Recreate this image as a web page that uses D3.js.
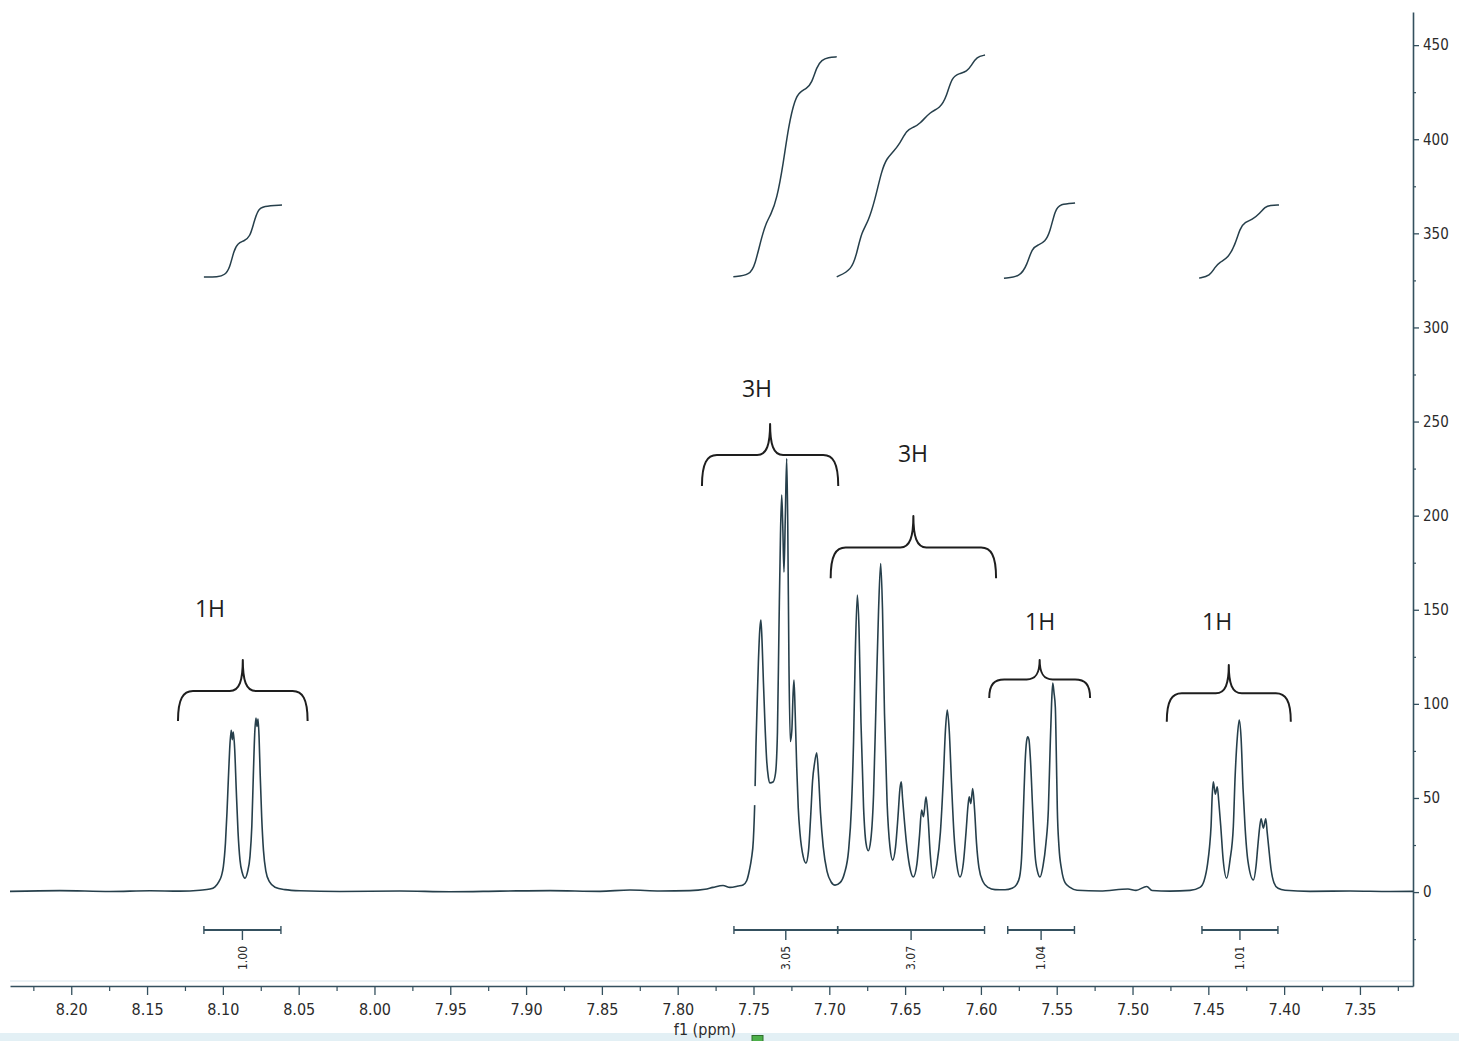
<!DOCTYPE html>
<html>
<head>
<meta charset="utf-8">
<script src="https://cdn.jsdelivr.net/npm/d3@7"></script>
<style>
  html, body { margin: 0; padding: 0; background: #fff; }
  svg { display: block; }
</style>
</head>
<body>
<svg id="chart" width="1459" height="1041"></svg>
<script>
// ---------------------------------------------------------------
// 1H NMR trace, aromatic region: [chemical shift (ppm), intensity]
// ---------------------------------------------------------------
const spectrum = [
  // baseline, low field
  [8.2404,0.4],[8.2075,0.8],[8.1745,0.3],[8.1481,0.7],[8.1283,0.5],[8.1151,1.0],[8.1085,1.6],
  // doublet near 8.09
  [8.1052,2.8],[8.1026,5.5],[8.1008,9],[8.0997,13.4],[8.0983,26],[8.0973,42],[8.0964,59.5],
  [8.0955,76],[8.0945,86],[8.0938,81],[8.0931,85],[8.0922,76],[8.0912,55],[8.0900,32],
  [8.0887,17],[8.0871,10],[8.0854,7.4],[8.0838,10.5],[8.0821,19],[8.0809,35],[8.0799,62],
  [8.0790,84],[8.0782,92.5],[8.0775,88],[8.0768,92],[8.0761,82],[8.0754,63],[8.0744,40],
  [8.0732,22],[8.0716,11],[8.0693,5.5],[8.0656,2.6],[8.0590,1.3],[8.0491,0.7],
  // baseline
  [8.0228,0.3],[7.9832,0.6],[7.9502,0.2],[7.9172,0.5],[7.8842,0.8],[7.8513,0.4],[7.8315,1.1],
  [7.8117,0.6],[7.7919,0.8],[7.7820,1.5],[7.7767,2.5],[7.7701,3.5],[7.7655,2.5],[7.7602,3.2],
  // multiplet 7.76 - 7.70
  [7.7569,3.8],[7.7545,6],[7.7526,12],[7.7513,18],[7.7501,27.6],[7.7491,50],[7.7484,77],
  [7.7476,100],[7.7468,121.5],[7.7458,140],[7.7451,144.5],[7.7443,132],[7.7435,112.6],
  [7.7424,88.7],[7.7413,70],[7.7402,61],[7.7391,58],[7.7371,58.5],[7.7355,63],[7.7342,85],
  [7.7332,140],[7.7322,190],[7.7314,211],[7.7307,195],[7.7299,170],[7.7290,200],[7.7281,230.4],
  [7.7274,195],[7.7266,120],[7.7257,80],[7.7247,86],[7.7239,105],[7.7233,112.6],[7.7225,95],
  [7.7215,66.6],[7.7205,45],[7.7193,31],[7.7172,18.8],[7.7154,15.4],[7.7137,22],[7.7123,40],
  [7.7110,59.5],[7.7098,68],[7.7083,74],[7.7071,62],[7.7058,42],[7.7040,24],[7.7015,11],
  [7.6989,5.5],[7.6962,3.7],
  // multiplet 7.69 - 7.60
  [7.6929,5],[7.6900,10],[7.6873,22],[7.6854,45],[7.6840,80],[7.6829,125],[7.6815,157.8],
  [7.6804,140],[7.6791,90],[7.6774,45],[7.6758,26],[7.6743,22],[7.6726,28],[7.6708,52],
  [7.6692,100],[7.6675,150],[7.6661,174.6],[7.6649,150],[7.6636,95],[7.6619,48],[7.6600,24],
  [7.6582,17],[7.6563,24],[7.6547,40],[7.6534,55],[7.6525,58.6],[7.6517,50],[7.6507,40],
  [7.6491,26],[7.6471,14],[7.6446,8],[7.6422,15],[7.6405,30],[7.6391,43.6],[7.6379,40],
  [7.6362,50.6],[7.6349,40],[7.6334,20],[7.6316,7.4],[7.6290,15],[7.6267,32],[7.6248,60],
  [7.6234,86],[7.6222,96.7],[7.6209,86],[7.6194,58],[7.6177,30],[7.6158,14],[7.6138,8],
  [7.6115,16],[7.6098,32],[7.6085,46],[7.6077,50.6],[7.6067,47],[7.6054,55],[7.6042,44],
  [7.6029,26],[7.6013,13],[7.5986,5.5],[7.5953,2.5],[7.5907,1.3],[7.5841,1.2],
  // doublet near 7.56
  [7.5795,2],[7.5765,4],[7.5745,8],[7.5732,18],[7.5720,43],[7.5709,68],[7.5699,80],
  [7.5691,82.5],[7.5683,81],[7.5673,70],[7.5658,43],[7.5643,20],[7.5627,11],[7.5610,8],
  [7.5590,14],[7.5571,26],[7.5555,44],[7.5544,75],[7.5534,100],[7.5526,111],[7.5518,106],
  [7.5509,98],[7.5503,75],[7.5496,44],[7.5485,24],[7.5468,12],[7.5445,5],[7.5412,2.5],
  [7.5366,1],[7.5214,0.6],[7.5030,1.6],[7.4977,0.9],[7.4906,3],[7.4871,0.8],[7.4753,0.5],
  [7.4621,0.9],
  // triplet near 7.43
  [7.4555,2.5],[7.4528,6],[7.4505,15],[7.4492,24],[7.4482,35],[7.4474,52],[7.4467,58.6],
  [7.4454,52],[7.4441,56],[7.4431,48],[7.4418,35],[7.4403,18],[7.4379,7.4],[7.4357,17],
  [7.4335,35],[7.4324,60],[7.4309,82],[7.4296,91.4],[7.4284,82],[7.4271,55],[7.4258,35],
  [7.4238,16],[7.4203,6.4],[7.4185,14],[7.4174,24],[7.4162,34],[7.4152,39],[7.4137,34],
  [7.4121,39],[7.4112,32],[7.4102,24],[7.4086,12],[7.4067,5],[7.4040,2],[7.3994,1],
  // baseline, high field
  [7.3829,0.4],[7.3565,0.6],[7.3301,0.3],[7.3150,0.4]
];

// Integral curves: [ppm, running integral on the same intensity scale]
const integral1 = [[8.1125,326.8],[8.1033,326.8],[8.0987,327.8],[8.0954,331.6],[8.0927,341.1],
  [8.0901,344.8],[8.0861,345.9],[8.0821,348.0],[8.0795,356.0],[8.0769,362.4],[8.0736,364.5],[8.0610,365.0]];
const integral2 = [[7.7633,326.9],[7.7523,327.8],[7.7490,333.2],[7.7446,348.2],[7.7413,356.2],
  [7.7387,359.7],[7.7347,367.7],[7.7303,387.2],[7.7270,406.7],[7.7226,421.7],[7.7193,425.2],
  [7.7149,427.0],[7.7116,429.7],[7.7083,438.5],[7.7050,442.1],[7.7007,443.5],[7.6951,443.8]];
const integral3 = [[7.6951,326.9],[7.6852,330.5],[7.6819,339.4],[7.6786,350.9],[7.6743,356.2],
  [7.6699,367.7],[7.6654,383.6],[7.6621,389.8],[7.6578,393.4],[7.6534,397.8],[7.6489,404.9],
  [7.6446,406.3],[7.6402,408.1],[7.6336,414.6],[7.6270,416.4],[7.6226,422.6],[7.6193,433.2],
  [7.6138,435.0],[7.6094,435.9],[7.6061,439.4],[7.6028,443.8],[7.5973,444.7]];
const integral4 = [[7.5848,326.2],[7.5742,326.8],[7.5696,333.2],[7.5663,342.2],[7.5623,343.8],
  [7.5577,345.4],[7.5544,350.7],[7.5511,362.4],[7.5478,365.6],[7.5379,366.1]];
const integral5 = [[7.4561,326.2],[7.4489,327.3],[7.4456,332.1],[7.4423,334.8],[7.4370,336.9],
  [7.4324,343.8],[7.4291,352.8],[7.4258,356.0],[7.4212,357.1],[7.4159,360.8],[7.4126,364.0],
  [7.4093,365.0],[7.4034,365.0]];
const integralCurves = [integral1, integral2, integral3, integral4, integral5];

// Integration regions (ppm from, ppm to) and their normalised values
const integrationRanges = [[8.1125,8.0617],[7.7629,7.6945],[7.6945,7.5976],[7.5823,7.5383],[7.4542,7.4041]];
const integrationValues = ["1.00","3.05","3.07","1.04","1.01"];

// Proton-count annotations: brace span (ppm), brace levels (arm end, bar, tip) and label
const braceFrom   = [8.1296, 7.7840, 7.6991, 7.5945, 7.4774];
const braceTo     = [8.0441, 7.6941, 7.5900, 7.5280, 7.3956];
const braceArm    = [90.9, 215.7, 166.8, 103.1, 90.5];
const braceBar    = [106.8, 232.2, 183.1, 113.0, 105.6];
const braceTip    = [123.3, 248.7, 199.8, 123.3, 120.6];
const protonLabels = ["1H", "3H", "3H", "1H", "1H"];
const labelPpm     = [8.1085, 7.7477, 7.6448, 7.5610, 7.4442];
const labelLevel   = [145.9, 263.3, 228.7, 139.0, 139.0];

// Masked patch over the trace (ppm from, ppm to, intensity from, intensity to)
const maskBox = [7.7545, 7.7332, 46.2, 56.3];

// Axis ticks
const xTicks = [8.20, 8.15, 8.10, 8.05, 8.00, 7.95, 7.90, 7.85, 7.80, 7.75, 7.70, 7.65, 7.60, 7.55, 7.50, 7.45, 7.40, 7.35];
const yTicks = [0, 50, 100, 150, 200, 250, 300, 350, 400, 450];

// ---------------------------------------------------------------
const W = 1459, H = 1041;
const svg = d3.select("#chart");
const axisColor = "#34505e";
const traceColor = "#263f4b";
const tickFont = "'DejaVu Sans Condensed', 'DejaVu Sans', sans-serif";

const x = d3.scaleLinear().domain([8.2404, 7.3150]).range([10, 1413]);
const y = d3.scaleLinear().domain([-49.9, 467.6]).range([986, 12]);
const axisY = y(-49.9);
const axisX = x(7.3150);

// pale strip along the bottom edge
svg.append("rect").attr("x", 0).attr("y", 1033).attr("width", W).attr("height", H - 1033)
  .attr("fill", "#e3f0f5");

// faint frame line just above the ppm axis
svg.append("line").attr("x1", x.range()[0]).attr("x2", axisX)
  .attr("y1", axisY - 5).attr("y2", axisY - 5)
  .attr("stroke", "#d6e5ec").attr("stroke-width", 1);

// ---- x axis (ppm, decreasing to the right)
const minorX = d3.range(8.225, 7.32, -0.025).filter(v => !xTicks.some(t => Math.abs(t - v) < 1e-6));
svg.append("g")
  .attr("transform", `translate(0,${axisY})`)
  .call(d3.axisBottom(x).tickValues(minorX).tickSize(5).tickFormat(""))
  .call(g => g.select(".domain").remove())
  .call(g => g.selectAll("line").attr("stroke", axisColor).attr("stroke-width", 1.2));

const gx = svg.append("g")
  .attr("transform", `translate(0,${axisY})`)
  .call(d3.axisBottom(x).tickValues(xTicks).tickFormat(d3.format(".2f"))
        .tickSize(9).tickSizeOuter(0).tickPadding(9));
gx.select(".domain").attr("stroke", axisColor).attr("stroke-width", 1.6);
gx.selectAll(".tick line").attr("stroke", axisColor).attr("stroke-width", 1.3);
gx.selectAll("text").attr("font-family", tickFont).attr("font-size", 16).attr("fill", "#2b2b2b");

svg.append("text").attr("x", 705).attr("y", 1035).attr("text-anchor", "middle")
  .attr("font-family", tickFont).attr("font-size", 16).attr("fill", "#2b2b2b")
  .text("f1 (ppm)");
svg.append("rect").attr("x", 752).attr("y", 1035.5).attr("width", 11).attr("height", 9)
  .attr("fill", "#4db04a").attr("stroke", "#2f6e2d").attr("stroke-width", 1);

// ---- y axis on the right
const minorY = d3.range(-25, 460, 50);
svg.append("g")
  .attr("transform", `translate(${axisX},0)`)
  .call(d3.axisRight(y).tickValues(minorY).tickSize(3).tickFormat(""))
  .call(g => g.select(".domain").remove())
  .call(g => g.selectAll("line").attr("stroke", axisColor).attr("stroke-width", 1.2));

const gy = svg.append("g")
  .attr("transform", `translate(${axisX},0)`)
  .call(d3.axisRight(y).tickValues(yTicks).tickSize(6).tickSizeOuter(0).tickPadding(4));
gy.select(".domain").attr("stroke", axisColor).attr("stroke-width", 1.6);
gy.selectAll(".tick line").attr("stroke", axisColor).attr("stroke-width", 1.3);
gy.selectAll("text").attr("font-family", tickFont).attr("font-size", 15).attr("fill", "#2b2b2b");

// ---- spectrum trace
const line = d3.line().x(d => x(d[0])).y(d => y(d[1])).curve(d3.curveMonotoneX);
svg.append("path").datum(spectrum).attr("d", line)
  .attr("fill", "none").attr("stroke", traceColor).attr("stroke-width", 1.6)
  .attr("stroke-linejoin", "round");

// masked patch
svg.append("rect")
  .attr("x", x(maskBox[0])).attr("width", x(maskBox[1]) - x(maskBox[0]))
  .attr("y", y(maskBox[3])).attr("height", y(maskBox[2]) - y(maskBox[3]))
  .attr("fill", "#ffffff");

// ---- integral curves
const integralLine = d3.line().x(d => x(d[0])).y(d => y(d[1])).curve(d3.curveBasis);
svg.selectAll("path.integral").data(integralCurves).join("path")
  .attr("class", "integral").attr("d", integralLine)
  .attr("fill", "none").attr("stroke", traceColor).attr("stroke-width", 1.5);

// ---- integration bars under the trace
const barY = axisY - 56;
const bars = svg.selectAll("g.intbar").data(integrationRanges).join("g").attr("class", "intbar");
bars.append("line")
  .attr("x1", d => x(d[0])).attr("x2", d => x(d[1]))
  .attr("y1", barY).attr("y2", barY)
  .attr("stroke", axisColor).attr("stroke-width", 1.8);
bars.append("line")
  .attr("x1", d => x(d[0])).attr("x2", d => x(d[0]))
  .attr("y1", barY - 4).attr("y2", barY + 4)
  .attr("stroke", axisColor).attr("stroke-width", 1.4);
bars.append("line")
  .attr("x1", d => x(d[1])).attr("x2", d => x(d[1]))
  .attr("y1", barY - 4).attr("y2", barY + 4)
  .attr("stroke", axisColor).attr("stroke-width", 1.4);
bars.append("line")
  .attr("x1", d => x((d[0] + d[1]) / 2)).attr("x2", d => x((d[0] + d[1]) / 2))
  .attr("y1", barY).attr("y2", barY + 10)
  .attr("stroke", axisColor).attr("stroke-width", 1.4);
bars.append("text")
  .attr("transform", d => `translate(${x((d[0] + d[1]) / 2)},${barY + 28}) rotate(-90)`)
  .attr("text-anchor", "middle").attr("dy", "0.35em")
  .attr("font-family", tickFont).attr("font-size", 12).attr("fill", "#2b2b2b")
  .text((d, i) => integrationValues[i]);

// ---- curly braces with proton counts
function bracePath(i) {
  const xl = x(braceFrom[i]), xr = x(braceTo[i]), xc = (xl + xr) / 2;
  const ya = y(braceArm[i]), yb = y(braceBar[i]), yt = y(braceTip[i]);
  const rx = 15, rc = 13, h = ya - yb, ht = yb - yt;
  return `M${xl},${ya}` +
    `C${xl},${yb + h * 0.25} ${xl + rx * 0.35},${yb} ${xl + rx},${yb}` +
    `L${xc - rc},${yb}` +
    `C${xc - rc * 0.25},${yb} ${xc},${yb - ht * 0.35} ${xc},${yt}` +
    `C${xc},${yb - ht * 0.35} ${xc + rc * 0.25},${yb} ${xc + rc},${yb}` +
    `L${xr - rx},${yb}` +
    `C${xr - rx * 0.35},${yb} ${xr},${yb + h * 0.25} ${xr},${ya}`;
}
svg.selectAll("path.brace").data(protonLabels).join("path")
  .attr("class", "brace").attr("d", (d, i) => bracePath(i))
  .attr("fill", "none").attr("stroke", "#1e1e1e").attr("stroke-width", 2)
  .attr("stroke-linejoin", "round");

svg.selectAll("text.hcount").data(protonLabels).join("text")
  .attr("class", "hcount")
  .attr("x", (d, i) => x(labelPpm[i])).attr("y", (d, i) => y(labelLevel[i]))
  .attr("text-anchor", "middle")
  .attr("font-family", "'Open Sans', 'Noto Sans', sans-serif").attr("font-size", 23)
  .attr("fill", "#1e1e1e")
  .text(d => d);
</script>
</body>
</html>
